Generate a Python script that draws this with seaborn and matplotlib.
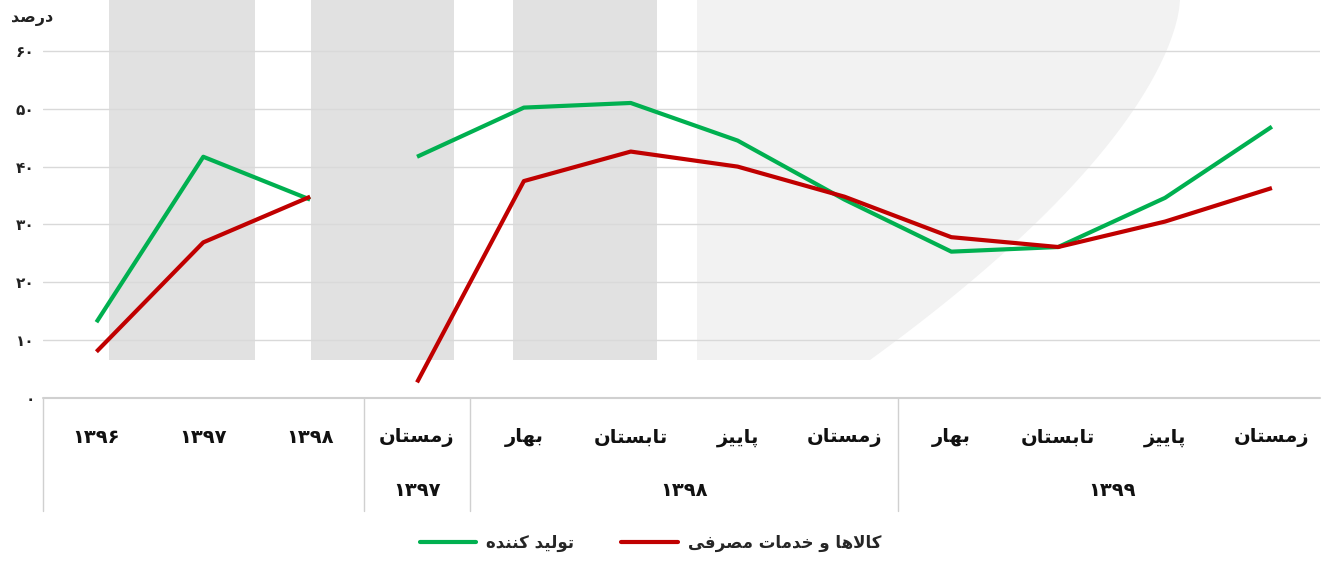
import numpy as np
import pandas as pd
import matplotlib.pyplot as plt
import matplotlib.transforms as mtransforms
from matplotlib.lines import Line2D
import seaborn as sns

# ── chart data ──────────────────────────────────────────────
season_labels = ['', '', '', 'زمستان', 'بهار', 'تابستان', 'پاییز', 'زمستان',
                 'بهار', 'تابستان', 'پاییز', 'زمستان']
year_labels = ['1396', '1397', '1398', '', '', '', '', '', '', '', '', '']
group_years = ['1397', '1398', '1399']
group_centers = [3, 5.5, 9.5]
segments = [0, 0, 0, 1, 1, 1, 1, 1, 1, 1, 1, 1]
producer = [13.1, 41.7, 34.3, 41.7, 50.2, 51.0, 44.5, 34.3, 25.3, 26.1, 34.6, 46.9]
consumer = [8.0, 26.9, 34.8, 2.7, 37.5, 42.6, 40.0, 34.8, 27.8, 26.1, 30.5, 36.3]
producer_name = 'تولید کننده'
consumer_name = 'کالاها و خدمات مصرفی'
y_title = 'درصد'

# background pillars, faint watermark and table separators
bands = [(0.12, 1.48), (2.01, 3.35), (3.9, 5.25)]
separators = [-0.5, 2.5, 3.5, 7.5]

GREEN = '#00b050'
RED = '#c00000'

# ── minimal arabic/persian shaping (matplotlib does no shaping) ──
FORMS = {
    'ا': ('\ufe8d', '\ufe8e', None, None),
    'ب': ('\ufe8f', '\ufe90', '\ufe91', '\ufe92'),
    'پ': ('\ufb56', '\ufb57', '\ufb58', '\ufb59'),
    'ت': ('\ufe95', '\ufe96', '\ufe97', '\ufe98'),
    'خ': ('\ufea5', '\ufea6', '\ufea7', '\ufea8'),
    'د': ('\ufea9', '\ufeaa', None, None),
    'ر': ('\ufead', '\ufeae', None, None),
    'ز': ('\ufeaf', '\ufeb0', None, None),
    'س': ('\ufeb1', '\ufeb2', '\ufeb3', '\ufeb4'),
    'ص': ('\ufeb9', '\ufeba', '\ufebb', '\ufebc'),
    'ف': ('\ufed1', '\ufed2', '\ufed3', '\ufed4'),
    'ک': ('\ufb8e', '\ufb8f', '\ufb90', '\ufb91'),
    'ل': ('\ufedd', '\ufede', '\ufedf', '\ufee0'),
    'م': ('\ufee1', '\ufee2', '\ufee3', '\ufee4'),
    'ن': ('\ufee5', '\ufee6', '\ufee7', '\ufee8'),
    'ه': ('\ufee9', '\ufeea', '\ufeeb', '\ufeec'),
    'و': ('\ufeed', '\ufeee', None, None),
    'ی': ('\ufbfc', '\ufbfd', '\ufbfe', '\ufbff'),
}
LAM_ALEF = ('\ufefb', '\ufefc')
FA_DIGITS = str.maketrans('0123456789', '۰۱۲۳۴۵۶۷۸۹')


def fa(text):
    if not any(c in FORMS for c in text):
        return text.translate(FA_DIGITS)
    out = []
    i = 0
    while i < len(text):
        c = text[i]
        if c not in FORMS:
            out.append(c)
            i += 1
            continue
        prev = text[i - 1] if i > 0 else ''
        joins_prev = prev in FORMS and FORMS[prev][2] is not None
        if c == 'ل' and i + 1 < len(text) and text[i + 1] == 'ا':
            out.append(LAM_ALEF[1] if joins_prev else LAM_ALEF[0])
            i += 2
            continue
        nxt = text[i + 1] if i + 1 < len(text) else ''
        joins_next = FORMS[c][2] is not None and nxt in FORMS
        iso, fin, ini, med = FORMS[c]
        if joins_prev and joins_next:
            out.append(med)
        elif joins_prev:
            out.append(fin)
        elif joins_next:
            out.append(ini)
        else:
            out.append(iso)
        i += 1
    return ''.join(out)[::-1]


df = pd.DataFrame({
    'pos': list(range(len(producer))) * 2,
    'value': producer + consumer,
    'segment': segments * 2,
    'series': ['producer'] * len(producer) + ['consumer'] * len(consumer),
})

sns.set_theme(style='white')
plt.rcParams['font.family'] = ['DejaVu Sans']

fig = plt.figure(figsize=(13.22, 5.61), dpi=100)
ax = fig.add_axes([43 / 1322, 1 - 398 / 561, (1320 - 43) / 1322, 398 / 561])

# faint watermark behind the plot (figure pixel space)
t = np.linspace(0, 1, 40)
edge_x = 1180 - 310 * t ** 1.6
edge_y = 561 - 360 * t
wm_x = np.concatenate([[697], edge_x, [697]])
wm_y = np.concatenate([[561], edge_y, [561 - 360]])
fig.patches.append(plt.Polygon(np.column_stack([wm_x / 1322, wm_y / 561]),
                               closed=True, transform=fig.transFigure,
                               facecolor='#f2f2f2', edgecolor='none', zorder=-5))
ax.patch.set_alpha(0)

y_top = 68.8
for x0, x1 in bands:
    ax.fill_between([x0, x1], 6.6, y_top, color='#e1e1e1', lw=0, zorder=0)

for name, color in [('producer', GREEN), ('consumer', RED)]:
    sns.lineplot(data=df[df['series'] == name], x='pos', y='value', units='segment',
                 estimator=None, color=color, lw=3, ax=ax, zorder=3,
                 solid_capstyle='butt')

ax.set_xlim(-0.5, 11.45)
ax.set_ylim(0, y_top)
yticks = list(range(0, 70, 10))
ax.set_yticks(yticks)
ax.set_yticklabels([fa(str(v)) for v in yticks], fontsize=11, fontweight='bold', color='#222222')
ax.yaxis.grid(True, color='#d9d9d9', lw=1)
ax.axhline(0, color='#d0d0d0', lw=1.5, clip_on=False, zorder=1)
ax.set_axisbelow(True)
ax.set_xticks([])
ax.set_xlabel('')
ax.set_ylabel('')
ax.tick_params(axis='y', length=0, pad=6)
for s in ax.spines.values():
    s.set_visible(False)

fig.text(32 / 1322, 1 - 18 / 561, fa(y_title), fontsize=11.5, fontweight='bold',
         color='#222222', ha='center', va='center')

# category table below the plot
trans = mtransforms.blended_transform_factory(ax.transData, ax.transAxes)
for x in separators:
    ax.plot([x, x], [0, -0.283], transform=trans, color='#d0d0d0', lw=1, clip_on=False)
for i, (s, y) in enumerate(zip(season_labels, year_labels)):
    label = s if s else y
    if label:
        ax.text(i, -0.098, fa(label), transform=trans, ha='center', va='center',
                fontsize=14, fontweight='bold', color='#111111')
for yr, xc in zip(group_years, group_centers):
    ax.text(xc, -0.232, fa(yr), transform=trans, ha='center', va='center',
            fontsize=14, fontweight='bold', color='#111111')

handles = [Line2D([], [], color=GREEN, lw=3), Line2D([], [], color=RED, lw=3)]
fig.legend(handles, [fa(producer_name), fa(consumer_name)], loc='center',
           bbox_to_anchor=(0.492, 1 - 543 / 561), ncol=2, frameon=False,
           prop={'size': 12, 'weight': 'bold'}, handlelength=3.4,
           handletextpad=0.6, columnspacing=2.8)

fig.savefig('out.png', dpi=100)
